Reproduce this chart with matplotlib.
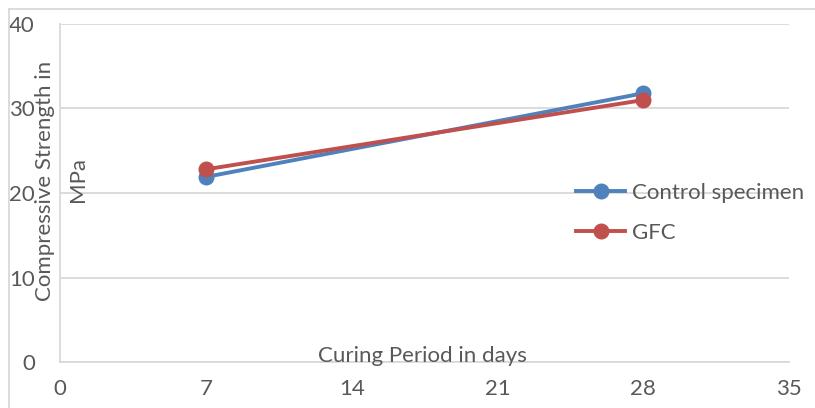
import matplotlib.pyplot as plt
from matplotlib.lines import Line2D

# curing period (days) and compressive strength (MPa)
days = [7, 28]
control = [21.9, 31.8]
gfc = [22.8, 31.0]
series_names = ["Control specimen", "GFC"]
x_ticks = [0, 7, 14, 21, 28, 35]
y_ticks = [0, 10, 20, 30, 40]

blue = "#4F81BD"
red = "#C0504D"
grid_col = "#D9D9D9"
text_col = "#595959"
fs = 16
lw = 2.8

plt.rcParams["font.family"] = ["Lato", "DejaVu Sans"]

fig = plt.figure(figsize=(8.15, 4.08), dpi=100)
ax = fig.add_axes([60 / 815, 1 - 362 / 408, (789 - 60) / 815, (362 - 24) / 408])

ax.plot(days, control, color=blue, lw=lw, marker="o", ms=10.5, label=series_names[0], zorder=3)
ax.plot(days, gfc, color=red, lw=lw, marker="o", ms=10.5, label=series_names[1], zorder=4)

ax.set_xlim(0, 35)
ax.set_ylim(0, 40)
ax.set_xticks(x_ticks)
ax.set_yticks(y_ticks)
ax.tick_params(length=0, labelsize=fs, colors=text_col)
ax.tick_params(axis="y", pad=18)
ax.tick_params(axis="x", pad=12)
ax.yaxis.grid(True, color=grid_col, lw=1.3)
ax.set_axisbelow(True)
for s in ["top", "right"]:
    ax.spines[s].set_visible(False)
for s in ["left", "bottom"]:
    ax.spines[s].set_color(grid_col)
    ax.spines[s].set_linewidth(1.3)

# axis titles sit inside the plot, like the original
fig.text(45 / 815, 1 - 181 / 408, "Compressive Strength in", rotation=90,
         ha="center", va="center", fontsize=fs, color=text_col)
fig.text(78 / 815, 1 - 180 / 408, "MPa", rotation=90,
         ha="center", va="center", fontsize=fs, color=text_col)
fig.text(422 / 815, 1 - 356 / 408, "Curing Period in days",
         ha="center", va="center", fontsize=fs, color=text_col)

handles = [Line2D([0], [0], color=blue, lw=lw, marker="o", ms=10.5),
           Line2D([0], [0], color=red, lw=lw, marker="o", ms=10.5)]
ax.legend(handles, series_names, loc="upper left", bbox_to_anchor=(565 / 815, 1 - 172 / 408),
          bbox_transform=fig.transFigure, frameon=False, fontsize=fs, labelcolor=text_col,
          handlelength=2.2, handletextpad=0.3, labelspacing=0.9, borderpad=0)

# chart-area border (left and top visible)
fig.add_artist(Line2D([9 / 815, 9 / 815], [0, 1 - 9 / 408], transform=fig.transFigure, color=grid_col, lw=1.3))
fig.add_artist(Line2D([9 / 815, 1], [1 - 9 / 408, 1 - 9 / 408], transform=fig.transFigure, color=grid_col, lw=1.3))

fig.savefig("out.png", dpi=100)
